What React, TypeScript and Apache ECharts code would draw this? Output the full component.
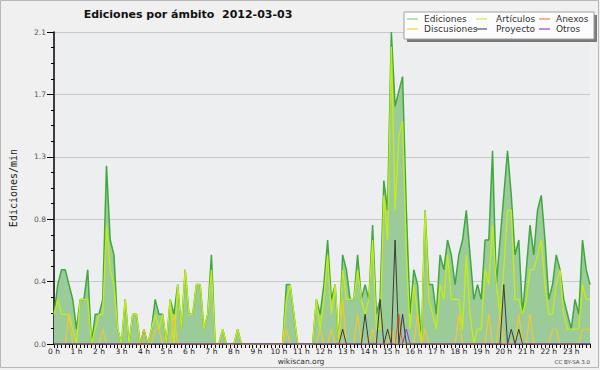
import React, { useEffect, useRef } from "react";
import * as echarts from "echarts";

const HOURS = ["0 h","1 h","2 h","3 h","4 h","5 h","6 h","7 h","8 h","9 h","10 h","11 h","12 h","13 h","14 h","15 h","16 h","17 h","18 h","19 h","20 h","21 h","22 h","23 h"];
const SLOTS = ["00","10","20","30","40","50"];
const TIMES = HOURS.flatMap((h) => SLOTS.map((m) => h.replace(" h", "") + ":" + m));

const Y_TICKS = ["0.0", "0.4", "0.8", "1.3", "1.7", "2.1"];

const EDICIONES = [
  0.2,0.4,0.5,0.5,0.4,0.3,0.1,0.3,0.3,0.5,0,0.2,
  0.2,0.3,1.2,0.7,0.6,0.1,0,0.3,0,0.2,0.2,0,
  0.1,0,0.1,0.3,0.2,0.2,0,0.3,0.2,0.4,0.1,0.5,
  0.2,0.2,0.4,0.4,0.1,0.2,0.6,0,0,0.1,0,0,
  0,0.1,0,0,0,0,0,0,0,0,0,0,
  0,0,0.4,0.4,0.2,0,0,0,0,0,0.3,0.2,
  0.4,0.7,0.3,0.4,0,0.6,0.5,0.3,0.3,0.6,0.3,0.4,
  0.3,0.8,0.2,0.3,1.1,0.9,2.1,1.6,1.7,1.8,0.9,0.2,
  0.5,0.4,0,0.9,0.4,0.4,0.2,0.6,0.5,0.7,0.6,0.4,
  0.6,0.7,0.9,0.6,0.3,0.4,0.3,0.7,0.7,1.3,0.4,0.7,
  1.0,1.3,1.0,0.6,0.7,0.2,0.5,0.8,0.6,0.9,1.0,0.7,
  0.3,0.4,0.6,0.5,0.3,0.2,0.1,0.3,0.2,0.7,0.5,0.4,
];

const ARTICULOS = [
  0.2,0.3,0.2,0.2,0.2,0.1,0,0.3,0.3,0.3,0,0.1,
  0.2,0.2,0.8,0.5,0.4,0.1,0,0.3,0,0.2,0.2,0,
  0,0,0.1,0.2,0.1,0.2,0,0.3,0,0.4,0.1,0.5,
  0.2,0.2,0.4,0.4,0.1,0.2,0.5,0,0,0.1,0,0,
  0,0.1,0,0,0,0,0,0,0,0,0,0,
  0,0,0.3,0.4,0.2,0,0,0,0,0,0.3,0.1,
  0.3,0.6,0.2,0.4,0,0.5,0.3,0.3,0.3,0.5,0.3,0.2,
  0.3,0.7,0.1,0.1,1.0,0.7,2.0,0.9,1.4,1.5,0.6,0.1,
  0.4,0.2,0,0.9,0.3,0.2,0.1,0.4,0.3,0.6,0.3,0.3,
  0.3,0.1,0.6,0.2,0,0.1,0.1,0.5,0.4,0.8,0.4,0.2,
  0.5,0.9,0.9,0.3,0.3,0.2,0.3,0.5,0.5,0.6,0.7,0.4,
  0.2,0.2,0.4,0.5,0.2,0.1,0.1,0.1,0.1,0.4,0.3,0.3,
];

const ANEXOS = [
  0,0,0,0,0,0,0,0,0,0,0,0,
  0,0,0,0,0,0,0,0,0,0,0,0,
  0,0,0,0,0,0,0,0,0,0,0,0,
  0,0,0,0,0,0,0,0,0,0,0,0,
  0,0,0,0,0,0,0,0,0,0,0,0,
  0,0,0,0,0,0,0,0,0,0,0,0,
  0,0,0,0,0,0,0,0,0,0,0,0,
  0,0,0,0,0,0,0,0,0.2,0,0,0,
  0,0,0,0,0,0,0,0,0,0,0,0,
  0,0,0,0,0,0,0,0,0,0,0,0,
  0,0,0,0,0,0,0,0,0,0,0,0,
  0,0,0,0,0,0,0,0,0,0,0,0,
];

const DISCUSIONES = [
  0,0,0,0,0.2,0,0,0,0,0,0,0,
  0,0.1,0,0,0,0,0,0,0,0,0,0,
  0.1,0,0,0.1,0.1,0,0,0,0.2,0,0,0,
  0,0,0,0,0,0,0,0,0,0,0,0,
  0,0,0,0,0,0,0,0,0,0,0,0,
  0,0,0.1,0,0,0,0,0,0,0,0,0.1,
  0,0,0.1,0,0,0.3,0,0,0,0.2,0,0,
  0,0.1,0,0,0,0,0.1,0,0,0,0,0,
  0,0.2,0,0.1,0,0,0,0,0,0,0,0,
  0.2,0,0,0,0,0,0,0,0.2,0,0,0.2,
  0,0,0,0,0.2,0,0,0.2,0,0,0,0,
  0,0.1,0.1,0,0,0,0,0,0,0.1,0.1,0.1,
];

const PROYECTO = [
  0,0,0,0,0,0,0,0,0,0,0,0,
  0,0,0,0,0,0,0,0,0,0,0,0,
  0,0,0,0,0,0,0,0,0,0,0,0,
  0,0,0,0,0,0,0,0,0,0,0,0,
  0,0,0,0,0,0,0,0,0,0,0,0,
  0,0,0,0,0,0,0,0,0,0,0,0,
  0,0,0,0,0,0.1,0,0,0,0,0,0.2,
  0,0,0,0.3,0,0.1,0,0.7,0,0.2,0,0,
  0,0,0,0,0,0,0,0,0,0,0,0,
  0,0,0,0,0,0,0,0,0,0,0,0,
  0.4,0,0.1,0,0.1,0,0,0,0,0,0,0,
  0,0,0,0,0,0,0,0,0,0,0,0,
];

const OTROS = [
  0,0,0,0,0,0,0,0,0,0,0,0,
  0,0,0,0,0,0,0,0,0,0,0,0,
  0,0,0,0,0,0,0,0,0,0,0,0,
  0,0,0,0,0,0,0,0,0,0,0,0,
  0,0,0,0,0,0,0,0,0,0,0,0,
  0,0,0,0,0,0,0,0,0,0,0,0,
  0,0,0,0,0,0,0,0,0,0,0,0,
  0,0,0,0,0,0,0,0,0,0,0.1,0,
  0,0,0,0,0,0,0,0,0,0,0,0,
  0,0,0,0,0,0,0,0,0,0,0,0,
  0,0,0,0,0,0,0,0,0,0,0,0,
  0,0,0,0,0,0,0,0,0,0,0,0,
];

const LEGEND = [
  { name: "Ediciones", color: "#8fcc8f", col: 0, row: 0 },
  { name: "Artículos", color: "#ccee44", col: 1, row: 0 },
  { name: "Anexos", color: "#ff7f50", col: 2, row: 0 },
  { name: "Discusiones", color: "#ffcc44", col: 0, row: 1 },
  { name: "Proyecto", color: "#555555", col: 1, row: 1 },
  { name: "Otros", color: "#8844ee", col: 2, row: 1 },
];
const LEG_LINE_X = [407, 476, 539];
const LEG_TEXT_X = [424, 496, 556];
const LEG_ROW_Y = [19, 29];

export default function App() {
  const ref = useRef<HTMLDivElement>(null);
  useEffect(() => {
    if (!ref.current) return;
    const chart = echarts.init(ref.current, null, { renderer: "svg" });
    const font = "DejaVu Sans";
    const lineSeries = (name: string, data: number[], color: string, width: number, z: number) => ({
      name,
      type: "line",
      data,
      symbol: "none",
      z,
      lineStyle: { color, width },
      itemStyle: { color },
    });

    const legendEls: any[] = [
      { type: "rect", shape: { x: 407, y: 15, width: 190, height: 27 }, style: { fill: "#7a7a7a" }, z: 10 },
      { type: "rect", shape: { x: 404, y: 12, width: 190, height: 27 }, style: { fill: "#fcfcfc", stroke: "#a0a0a0", lineWidth: 1 }, z: 11 },
    ];
    LEGEND.forEach((l) => {
      legendEls.push({
        type: "line",
        shape: { x1: LEG_LINE_X[l.col], y1: LEG_ROW_Y[l.row], x2: LEG_LINE_X[l.col] + 11, y2: LEG_ROW_Y[l.row] },
        style: { stroke: l.color, lineWidth: 1.2 },
        z: 12,
      });
      legendEls.push({
        type: "text",
        x: LEG_TEXT_X[l.col],
        y: LEG_ROW_Y[l.row],
        style: { text: l.name, font: `9px '${font}'`, fill: "#333", verticalAlign: "middle" },
        z: 12,
      });
    });

    chart.setOption({
      animation: false,
      backgroundColor: "#f0f0f0",
      grid: { left: 45, right: 10, top: 32, bottom: 26, show: true, backgroundColor: "#edeef0", borderWidth: 0 },
      xAxis: {
        type: "category",
        data: TIMES,
        boundaryGap: false,
        axisLine: { lineStyle: { color: "#000", width: 1.5 } },
        axisTick: { show: true, interval: 0, length: 4, lineStyle: { color: "#000" } },
        axisLabel: {
          interval: 5,
          margin: 3,
          fontFamily: font,
          fontSize: 7.5,
          color: "#222",
          formatter: (_v: string, i: number) => HOURS[Math.floor(i / 6)],
        },
        splitLine: { show: false },
      },
      yAxis: {
        type: "value",
        min: 0,
        max: 2.1,
        interval: 0.42,
        name: "Ediciones/min",
        nameLocation: "middle",
        nameRotate: 90,
        nameGap: 36,
        nameTextStyle: { fontFamily: "DejaVu Sans Mono", fontSize: 10, color: "#222" },
        axisLine: { show: true, lineStyle: { color: "#000", width: 1.5 } },
        axisTick: { show: true, length: 7, lineStyle: { color: "#000" } },
        minorTick: { show: true, splitNumber: 4, length: 3, lineStyle: { color: "#000" } },
        axisLabel: {
          margin: 8,
          fontFamily: font,
          fontSize: 7.5,
          color: "#555",
          formatter: (v: number) => Y_TICKS[Math.round(v / 0.42)] ?? v.toFixed(1),
        },
        splitLine: { show: true, lineStyle: { color: "#c8c8c8", width: 1 } },
      },
      series: [
        {
          ...lineSeries("Ediciones", EDICIONES, "#3fa83f", 1.5, 2),
          areaStyle: { color: "#9ccb9a", opacity: 1 },
        },
        lineSeries("Artículos", ARTICULOS, "#c4ee10", 1.3, 3),
        lineSeries("Anexos", ANEXOS, "#ff5a22", 1, 4),
        lineSeries("Discusiones", DISCUSIONES, "#ffc81e", 1, 4),
        lineSeries("Proyecto", PROYECTO, "#3a3a3a", 1, 5),
        lineSeries("Otros", OTROS, "#7a3cf0", 1, 5),
      ],
      graphic: [
        { type: "rect", shape: { x: 0.5, y: 0.5, width: 598, height: 367 }, style: { fill: "none", stroke: "#b8b8b8", lineWidth: 1 }, z: 1, silent: true },
        {
          type: "text",
          x: 188,
          y: 14,
          style: { text: "Ediciones por ámbito  2012-03-03", font: `bold 11px '${font}'`, fill: "#111", align: "center", verticalAlign: "middle" },
        },
        {
          type: "text",
          x: 301,
          y: 361,
          style: { text: "wikiscan.org", font: `7.5px '${font}'`, fill: "#333", align: "center", verticalAlign: "middle" },
        },
        {
          type: "text",
          x: 590,
          y: 362,
          style: { text: "CC BY-SA 3.0", font: `5.5px '${font}'`, fill: "#444", align: "right", verticalAlign: "middle" },
        },
        ...legendEls,
      ],
    });
    return () => chart.dispose();
  }, []);
  return <div ref={ref} style={{ position: "fixed", left: 0, top: 0, width: 600, height: 370 }} />;
}
